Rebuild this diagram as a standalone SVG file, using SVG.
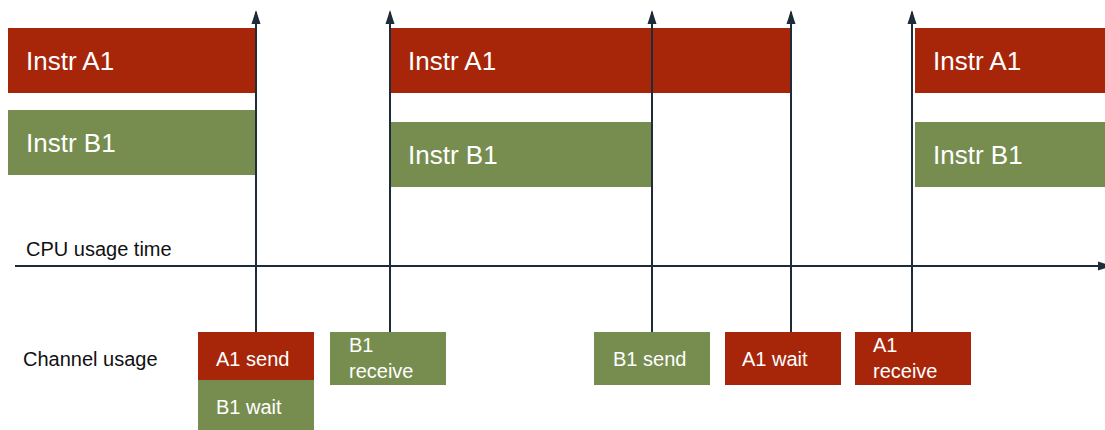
<svg xmlns="http://www.w3.org/2000/svg" width="1105" height="430" viewBox="0 0 1105 430">
<style>
.red{fill:#A7260A}
.green{fill:#778D4F}
.big{font-family:"Liberation Sans",Arial,sans-serif;font-size:26px;fill:#fff}
.small{font-family:"Liberation Sans",Arial,sans-serif;font-size:20px;fill:#fff}
.lbl{font-family:"Liberation Sans",Arial,sans-serif;font-size:20px;fill:#111}
.ln{stroke:#1E2B38;stroke-width:2;fill:none}
</style>
<defs>
<marker id="ah" markerWidth="14" markerHeight="10" refX="12" refY="5" orient="auto" markerUnits="userSpaceOnUse" viewBox="0 0 14 10">
<path d="M0,0.5 L14,5 L0,9.5 Z" fill="#1E2B38"/>
</marker>
</defs>
<g id="bars">
<g id="a1-1"><rect class="red" x="8" y="28" width="248" height="65"/><text class="big" x="26" y="70">Instr A1</text></g>
<g id="b1-1"><rect class="green" x="8" y="110" width="248" height="65"/><text class="big" x="26" y="152">Instr B1</text></g>
<g id="a1-2"><rect class="red" x="390" y="28" width="400" height="65"/><text class="big" x="408" y="70">Instr A1</text></g>
<g id="b1-2"><rect class="green" x="390" y="122" width="262" height="65"/><text class="big" x="408" y="164">Instr B1</text></g>
<g id="a1-3"><rect class="red" x="915" y="28" width="190" height="65"/><text class="big" x="933" y="70">Instr A1</text></g>
<g id="b1-3"><rect class="green" x="915" y="122" width="190" height="65"/><text class="big" x="933" y="164">Instr B1</text></g>
</g>
<g id="labels">
<text class="lbl" x="26" y="256">CPU usage time</text>
<text class="lbl" x="23" y="366">Channel usage</text>
</g>
<g id="channel">
<g id="a1send"><rect class="red" x="198" y="332" width="116" height="48"/><text class="small" x="216" y="366">A1 send</text></g>
<g id="b1wait"><rect class="green" x="198" y="380" width="116" height="50"/><text class="small" x="216" y="414">B1 wait</text></g>
<g id="b1recv"><rect class="green" x="330" y="332" width="116" height="53"/><text class="small" x="349" y="352">B1</text><text class="small" x="349" y="378">receive</text></g>
<g id="b1send"><rect class="green" x="594" y="332" width="116" height="53"/><text class="small" x="613" y="366">B1 send</text></g>
<g id="a1wait"><rect class="red" x="725" y="332" width="116" height="53"/><text class="small" x="742" y="366">A1 wait</text></g>
<g id="a1recv"><rect class="red" x="855" y="332" width="116" height="53"/><text class="small" x="873" y="352">A1</text><text class="small" x="873" y="378">receive</text></g>
</g>
<g id="connectors">
<line class="ln" x1="15" y1="266" x2="1110" y2="266" marker-end="url(#ah)"/>
<line class="ln" x1="256" y1="332" x2="256" y2="12" marker-end="url(#ah)"/>
<line class="ln" x1="390" y1="332" x2="390" y2="12" marker-end="url(#ah)"/>
<line class="ln" x1="652" y1="332" x2="652" y2="12" marker-end="url(#ah)"/>
<line class="ln" x1="791" y1="332" x2="791" y2="12" marker-end="url(#ah)"/>
<line class="ln" x1="912" y1="332" x2="912" y2="12" marker-end="url(#ah)"/>
</g>
</svg>
